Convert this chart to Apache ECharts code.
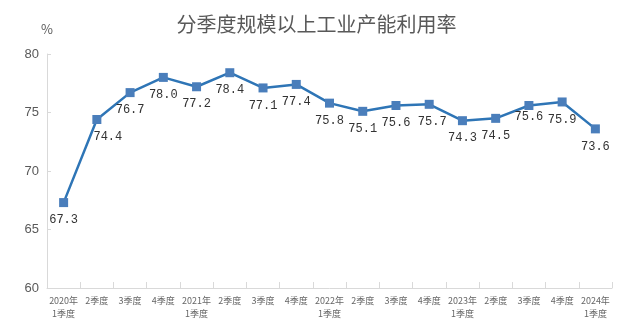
<!DOCTYPE html>
<html><head><meta charset="utf-8">
<script src="https://cdn.jsdelivr.net/npm/echarts@6/dist/echarts.min.js"></script>
<style>html,body{margin:0;padding:0;background:#fff}#c{width:633px;height:333px}</style>
</head><body><div id="c"></div>
<script>
const categories = ['2020年\n1季度','2季度','3季度','4季度','2021年\n1季度','2季度','3季度','4季度','2022年\n1季度','2季度','3季度','4季度','2023年\n1季度','2季度','3季度','4季度','2024年\n1季度'];
const values = [67.3,74.4,76.7,78.0,77.2,78.4,77.1,77.4,75.8,75.1,75.6,75.7,74.3,74.5,75.6,75.9,73.6];
const yTicks = [60,65,70,75,80];

// small manual label nudges, as in the reference
const labelNudge = {1:[11,0], 11:[3,0], 14:[0,-6]};
const seriesData = values.map((v,i)=> labelNudge[i] ? {value:v,label:{offset:labelNudge[i]}} : v);

const chart = echarts.init(document.getElementById('c'));
chart.setOption({
  animation:false,
  title:{text:'分季度规模以上工业产能利用率',left:'center',top:9,
    textStyle:{fontFamily:'Noto Sans CJK SC',fontSize:20,fontWeight:'normal',color:'#595959'}},
  grid:{left:47,right:21,top:54,bottom:45},
  xAxis:{type:'category',data:categories,boundaryGap:true,
    axisLine:{lineStyle:{color:'#d9d9d9',width:1}},
    axisTick:{show:true,inside:true,length:6,lineStyle:{color:'#d9d9d9'}},
    axisLabel:{fontFamily:'Noto Sans CJK SC',fontSize:9,color:'#666666',lineHeight:13,margin:6,interval:0}},
  yAxis:{type:'value',min:yTicks[0],max:yTicks[yTicks.length-1],interval:5,
    name:'%',nameLocation:'end',nameGap:18,
    nameTextStyle:{fontFamily:'Noto Sans CJK SC',fontSize:13,color:'#595959',align:'center'},
    axisLine:{show:true,lineStyle:{color:'#d9d9d9'}},
    axisTick:{show:true,inside:true,length:4,lineStyle:{color:'#d9d9d9'}},
    splitLine:{show:false},
    axisLabel:{fontFamily:'Liberation Sans',fontSize:13,color:'#595959',margin:8}},
  series:[{type:'line',data:seriesData,symbol:'rect',symbolSize:9,
    lineStyle:{color:'#2e75b6',width:2.5},
    itemStyle:{color:'#4a7ebb'},
    label:{show:true,position:'bottom',distance:7,
      fontFamily:'Liberation Mono',fontSize:12,color:'#333333',
      formatter:p=>Number(p.value).toFixed(1)}}]
});
</script></body></html>
